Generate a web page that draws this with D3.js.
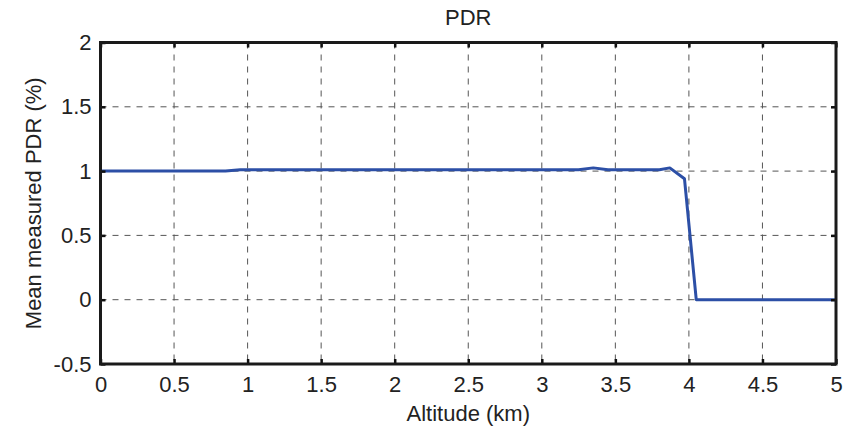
<!DOCTYPE html>
<html>
<head>
<meta charset="utf-8">
<script src="https://cdn.jsdelivr.net/npm/d3@7"></script>
<style>
  body { margin: 0; background: #fff; }
  text { font-family: "Liberation Sans", Arial, sans-serif; fill: #222; }
</style>
</head>
<body>
<svg id="chart"></svg>
<script>
// data
const altitude = [0, 0.85, 0.95, 3.25, 3.35, 3.45, 3.8, 3.87, 3.97, 4.05, 5]
const pdr      = [1, 1, 1.01, 1.01, 1.025, 1.01, 1.01, 1.025, 0.94, 0, 0]
const xTicks = [0, 0.5, 1, 1.5, 2, 2.5, 3, 3.5, 4, 4.5, 5]
const yTicks = [-0.5, 0, 0.5, 1, 1.5, 2]

const width = 856, height = 428
const margin = { top: 42.5, right: 20, bottom: 64, left: 100.5 }
const fs = "22px"

const svg = d3.select("#chart").attr("width", width).attr("height", height)

const x = d3.scaleLinear().domain([0, 5]).range([margin.left, width - margin.right])
const y = d3.scaleLinear().domain([-0.5, 2]).range([height - margin.bottom, margin.top])

// grid
svg.append("g").selectAll("line").data(xTicks.slice(1, -1)).join("line")
  .attr("x1", d => x(d)).attr("x2", d => x(d))
  .attr("y1", y(2)).attr("y2", y(-0.5))
  .attr("stroke", "#555").attr("stroke-width", 1).attr("stroke-dasharray", "6,6")
svg.append("g").selectAll("line").data(yTicks.slice(1, -1)).join("line")
  .attr("x1", x(0)).attr("x2", x(5))
  .attr("y1", d => y(d)).attr("y2", d => y(d))
  .attr("stroke", "#555").attr("stroke-width", 1).attr("stroke-dasharray", "6,6")

// line
const pts = altitude.map((a, i) => [a, pdr[i]])
svg.append("path").datum(pts)
  .attr("fill", "none").attr("stroke", "#2c4fa6").attr("stroke-width", 3)
  .attr("stroke-linejoin", "round")
  .attr("d", d3.line().x(d => x(d[0])).y(d => y(d[1])))

// axes (inward ticks on all sides)
const tl = 5
const fmt = d => String(d)
svg.append("g").attr("transform", `translate(0,${y(-0.5)})`)
  .call(d3.axisBottom(x).tickValues(xTicks).tickSize(-tl).tickPadding(12).tickFormat(fmt))
svg.append("g").attr("transform", `translate(0,${y(2)})`)
  .call(d3.axisTop(x).tickValues(xTicks).tickSize(-tl).tickFormat(""))
svg.append("g").attr("transform", `translate(${x(0)},0)`)
  .call(d3.axisLeft(y).tickValues(yTicks).tickSize(-tl).tickPadding(9).tickFormat(fmt))
svg.append("g").attr("transform", `translate(${x(5)},0)`)
  .call(d3.axisRight(y).tickValues(yTicks).tickSize(-tl).tickFormat(""))

svg.selectAll(".domain").remove()
svg.selectAll(".tick line").attr("stroke", "#111").attr("stroke-width", 2.5)
svg.selectAll(".tick text").style("font-size", fs).attr("fill", "#222")
  .style("font-family", "'Liberation Sans', Arial, sans-serif")

// frame
svg.append("rect")
  .attr("x", x(0)).attr("y", y(2))
  .attr("width", x(5) - x(0)).attr("height", y(-0.5) - y(2))
  .attr("fill", "none").attr("stroke", "#1a1a1a").attr("stroke-width", 3)

// labels
svg.append("text").attr("x", (x(0) + x(5)) / 2).attr("y", 25)
  .attr("text-anchor", "middle").style("font-size", fs).text("PDR")
svg.append("text").attr("x", (x(0) + x(5)) / 2).attr("y", 421)
  .attr("text-anchor", "middle").style("font-size", fs).text("Altitude (km)")
svg.append("text")
  .attr("transform", `translate(41,${(y(2) + y(-0.5)) / 2}) rotate(-90)`)
  .attr("text-anchor", "middle").style("font-size", fs).text("Mean measured PDR (%)")
</script>
</body>
</html>
